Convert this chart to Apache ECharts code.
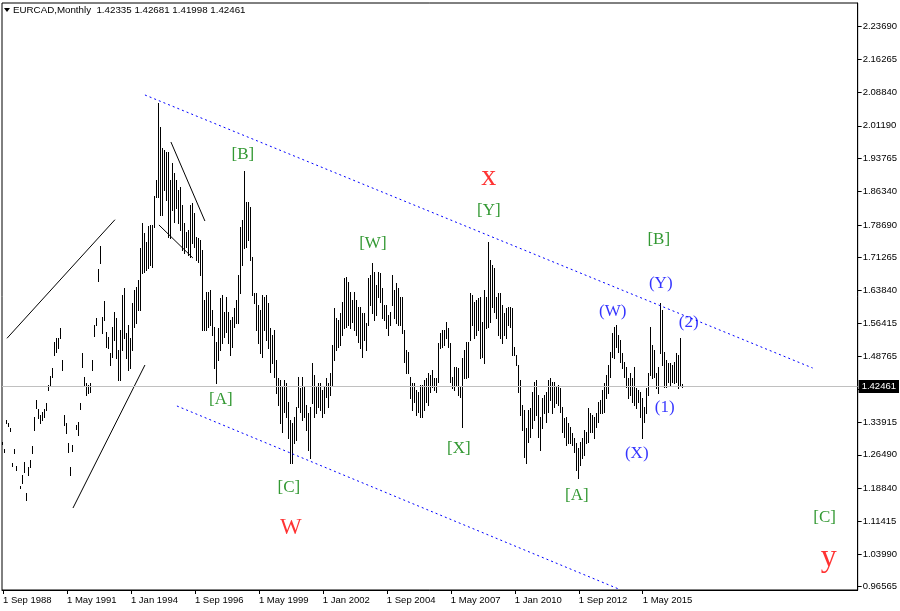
<!DOCTYPE html>
<html>
<head>
<meta charset="utf-8">
<script src="https://cdn.jsdelivr.net/npm/echarts@6.0.0/dist/echarts.min.js"></script>
<style>
html,body{margin:0;padding:0;background:#fff;}
#chart{width:900px;height:611px;}
</style>
</head>
<body>
<div id="chart"></div>
<script>
// ---- header / meta ----
const symbolName = 'EURCAD,Monthly';
const lastBarOHLC = [1.42335, 1.42681, 1.41998, 1.42461];

// ---- time axis: monthly categories from Sep 1988 ----
const startYear = 1988;
const startMonth = 8; // Sep (0-based)
const totalMonths = 428;
const monthNames = ['Jan','Feb','Mar','Apr','May','Jun','Jul','Aug','Sep','Oct','Nov','Dec'];
const labelEvery = 32;

// ---- price axis tick labels ----
const priceTicks = [0.96565, 1.03990, 1.11415, 1.18840, 1.26490, 1.33915, 1.41340, 1.48765, 1.56415,
  1.63840, 1.71265, 1.78690, 1.86340, 1.93765, 2.01190, 2.08840, 2.16265, 2.23690];
const priceMin = 0.9581;
const priceMax = 2.2906;

// ---- monthly bar highs (from Sep 1988) ----
const highs = [
 1.294,1.278,1.344,1.337,1.326,1.246,1.278,1.240,null,1.194,
 1.219,1.249,1.178,1.237,1.253,1.285,1.351,1.389,1.369,1.355,
 1.362,1.369,1.383,1.423,1.444,1.462,1.521,1.530,1.530,1.553,
 1.480,1.355,1.337,1.292,1.237,1.287,null,1.333,1.340,1.383,
 1.496,1.442,1.428,1.423,1.428,1.480,1.560,1.576,1.687,1.739,
 1.578,1.614,1.544,1.532,1.496,1.555,1.589,1.576,1.503,1.548,
 1.628,1.644,1.541,1.560,1.530,1.610,1.639,1.646,1.662,1.734,
 1.791,1.769,1.748,1.784,1.787,1.787,1.853,1.889,2.064,2.009,
 1.961,1.957,1.952,1.952,1.889,1.927,1.905,1.889,1.866,1.873,
 1.832,1.791,1.771,1.775,1.832,1.837,1.814,1.759,1.757,1.753,
 1.730,1.616,1.635,1.635,1.639,1.594,1.555,1.521,1.553,1.621,
 1.628,1.589,1.623,1.589,1.571,1.578,1.598,1.616,1.673,1.782,
 1.798,1.909,1.839,1.839,1.828,1.714,1.632,1.632,1.605,1.594,
 1.628,1.623,1.628,1.610,1.553,1.537,1.548,1.480,1.439,1.435,
 1.419,1.435,1.428,1.385,1.344,1.337,1.351,1.374,1.442,1.417,
 1.442,1.419,1.378,1.360,1.374,1.473,1.446,1.419,1.428,1.428,
 1.412,1.419,1.439,1.428,1.451,1.514,1.598,1.576,1.571,1.587,
 1.612,1.666,1.669,1.657,1.635,1.616,1.635,1.616,1.601,1.601,
 1.587,1.587,1.564,1.666,1.673,1.700,1.680,1.651,1.680,1.678,
 1.644,1.605,1.605,1.582,1.589,1.673,1.639,1.655,1.644,1.623,
 1.623,1.548,1.503,1.498,1.442,1.428,1.428,1.412,1.408,1.423,
 1.423,1.435,1.439,1.451,1.446,1.458,1.439,1.439,1.519,1.541,
 1.548,1.548,1.567,1.553,1.519,1.442,1.464,1.464,1.462,1.419,
 1.485,1.503,1.521,1.521,1.632,1.628,1.612,1.616,1.621,1.623,
 1.567,1.639,1.623,1.748,1.707,1.696,1.689,1.623,1.632,1.632,
 1.605,1.587,1.598,1.601,1.601,1.598,1.510,1.492,1.469,1.435,
 1.378,1.367,1.326,1.367,1.371,1.408,1.430,1.435,1.401,1.351,
 1.394,1.401,1.408,1.435,1.439,1.430,1.430,1.419,1.423,1.417,
 1.374,1.349,1.351,1.337,1.328,1.315,1.303,1.292,1.281,1.294,
 1.303,1.321,1.317,1.371,1.360,1.355,1.351,1.360,1.385,1.389,
 1.412,1.428,1.446,1.469,1.498,1.541,1.555,1.560,1.537,1.526,
 1.496,1.476,1.464,1.439,1.451,1.439,1.464,1.417,1.412,1.408,
 1.394,1.374,1.417,1.451,1.555,1.514,1.503,1.451,1.464,1.610,
 1.594,1.498,1.480,1.473,1.473,1.469,1.476,1.496,1.492,1.530,
 1.42681
];

// ---- monthly bar lows (from Sep 1988) ----
const lows = [
 1.290,1.271,1.337,1.330,1.319,1.240,1.269,1.231,null,1.190,
 1.201,1.226,1.162,1.219,1.237,1.269,1.321,1.371,1.349,1.337,
 1.344,1.351,1.367,1.412,1.423,1.442,1.492,1.498,1.507,1.530,
 1.458,1.333,1.315,1.271,1.219,1.274,null,1.324,1.310,1.369,
 1.464,1.423,1.401,1.405,1.407,1.458,1.535,1.560,1.660,1.700,
 1.541,1.571,1.510,1.507,1.469,1.487,1.526,1.485,1.435,1.435,
 1.503,1.530,1.485,1.458,1.462,1.503,1.555,1.564,1.594,1.594,
 1.678,1.680,1.685,1.689,1.696,1.691,1.782,1.850,1.850,1.809,
 1.809,1.866,1.843,1.759,1.757,1.821,1.794,1.825,1.791,1.775,
 1.730,1.723,1.737,1.719,1.714,1.746,1.737,1.707,1.703,1.673,
 1.548,1.548,1.548,1.555,1.560,1.537,1.462,1.428,1.480,1.503,
 1.519,1.532,1.544,1.519,1.492,1.510,1.555,1.564,1.564,1.632,
 1.696,1.734,1.737,1.753,1.707,1.628,1.610,1.548,1.519,1.496,
 1.487,1.548,1.526,1.507,1.453,1.473,1.442,1.405,1.378,1.337,
 1.317,1.362,1.351,1.303,1.246,1.246,1.292,1.299,1.374,1.362,
 1.344,1.351,1.321,1.276,1.258,1.383,1.351,1.360,1.374,1.367,
 1.351,1.360,1.396,1.374,1.401,1.423,1.480,1.503,1.510,1.514,
 1.537,1.553,1.555,1.560,1.553,1.567,1.548,1.537,1.521,1.507,
 1.487,1.526,1.503,1.560,1.605,1.587,1.571,1.582,1.623,1.612,
 1.576,1.571,1.553,1.537,1.560,1.605,1.576,1.564,1.560,1.560,
 1.541,1.476,1.451,1.451,1.394,1.367,1.385,1.355,1.362,1.351,
 1.351,1.367,1.385,1.378,1.408,1.419,1.412,1.408,1.430,1.507,
 1.510,1.514,1.530,1.510,1.430,1.417,1.412,1.423,1.401,1.396,
 1.328,1.439,1.439,1.442,1.526,1.560,1.530,1.537,1.548,1.485,
 1.487,1.473,1.553,1.555,1.567,1.601,1.589,1.576,1.537,1.530,
 1.519,1.537,1.530,1.560,1.555,1.492,1.492,1.469,1.408,1.355,
 1.321,1.260,1.246,1.294,1.305,1.326,1.344,1.355,1.305,1.276,
 1.326,1.360,1.340,1.362,1.389,1.360,1.374,1.383,1.378,1.362,
 1.317,1.305,1.287,1.292,1.292,1.287,1.271,1.231,1.212,1.242,
 1.258,1.265,1.292,1.294,1.317,1.317,1.303,1.328,1.340,1.360,
 1.360,1.362,1.394,1.405,1.442,1.487,1.485,1.510,1.498,1.476,
 1.462,1.442,1.419,1.394,1.401,1.385,1.378,1.371,1.385,1.351,
 1.303,1.340,1.360,1.401,1.446,1.439,1.442,1.417,1.405,1.496,
 1.469,1.419,1.419,1.430,1.423,1.430,1.428,1.430,1.417,1.423,
 1.41998
];

// ---- hand-drawn lines: [monthIndex, price] endpoints ----
const channelUpper = [[71, 2.0818], [405, 1.4620]];
const channelLower = [[87, 1.3758], [308, 0.9603]];
const trendA = [[1.5, 1.5295], [56, 1.7987]];
const trendB = [[34.5, 1.1442], [71, 1.4688]];
const trendC = [[84, 1.9751], [100.5, 1.7957]];
const trendD = [[77.5, 1.7867], [94.5, 1.7117]];

// ---- wave labels ----
const waveTexts = ['[B]','[A]','[C]','W','[W]','[X]','[Y]','x','[A]','(W)','(X)','(Y)','[B]','(1)','(2)','[C]','y'];
const waveIdx   = [120,108.5,143.25,144,184.5,228,243,242.5,286.5,304.5,317,328.5,328,331,342.5,410.5,412.5];
const wavePrice = [1.9456,1.3906,1.1908,1.1000,1.7447,1.2793,1.8196,1.8947,1.1727,1.5903,1.2680,1.6539,1.7538,1.3724,1.5654,1.1227,1.0320];
const waveKind  = ['g','g','g','r','g','g','g','r','g','b','b','b','g','b','b','g','r'];
const waveSizes = [17,17,17,23,17,17,17,30,17,17,17,17,17,17,17,17,32];
const kindColors = {g:'#008000', b:'#0000ff', r:'#ff0000'};

// ---- build ----
const categories = [];
for (let i = 0; i < totalMonths; i++) {
  const m = (startMonth + i) % 12;
  const y = startYear + Math.floor((startMonth + i) / 12);
  categories.push('1 ' + monthNames[m] + ' ' + y);
}
const barCount = highs.length;
const barData = [];
for (let i = 0; i < barCount; i++) {
  if (highs[i] != null && lows[i] != null) barData.push([i, highs[i], lows[i]]);
}
const showTick = function (index) { return index % labelEvery === 0 && index < barCount; };

const sansFont = 'Liberation Sans, Arial, sans-serif';
const serifFont = 'Liberation Serif, Times New Roman, serif';

function lineSeries(data, color, type) {
  return {
    type: 'line', data: data, showSymbol: false, symbol: 'none', silent: true,
    lineStyle: {color: color, width: 1, type: type}, z: 3, clip: true, animation: false
  };
}

const chart = echarts.init(document.getElementById('chart'), null, {renderer: 'canvas'});
chart.setOption({
  animation: false,
  backgroundColor: '#ffffff',
  grid: {left: 2, right: 42, top: 3, bottom: 21, show: true, borderColor: '#000', borderWidth: 1},
  xAxis: {
    type: 'category', data: categories, boundaryGap: true,
    axisLine: {show: true, lineStyle: {color: '#000', width: 1}},
    axisTick: {show: true, alignWithLabel: true, interval: showTick, length: 4, lineStyle: {color: '#000'}},
    axisLabel: {interval: showTick, align: 'left', margin: 5, fontSize: 9.5, fontFamily: sansFont, color: '#000'},
    splitLine: {show: false}
  },
  yAxis: {
    type: 'value', position: 'right', min: priceMin, max: priceMax,
    axisLine: {show: true, lineStyle: {color: '#000', width: 1}},
    axisTick: {show: true, length: 4, customValues: priceTicks, lineStyle: {color: '#000'}},
    axisLabel: {customValues: priceTicks, formatter: function (v) { return v.toFixed(5); },
      margin: 5, fontSize: 9.5, fontFamily: sansFont, color: '#000', padding: [4, 0, 0, 0]},
    splitLine: {show: false}
  },
  graphic: [
    {type: 'polygon', shape: {points: [[4, 8], [10, 8], [7, 12]]}, style: {fill: '#000'}, z: 10},
    {type: 'text', left: 13, top: 5, z: 10,
      style: {text: symbolName + '  ' + lastBarOHLC.map(function (v) { return v.toFixed(5); }).join(' '),
        font: '9.75px ' + sansFont, fill: '#000'}}
  ],
  series: [
    {
      type: 'custom', data: barData, encode: {x: 0, y: [1, 2]}, z: 2, silent: true, clip: true,
      renderItem: function (params, api) {
        const idx = api.value(0);
        const p1 = api.coord([idx, api.value(1)]);
        const p2 = api.coord([idx, api.value(2)]);
        const px = Math.round(p1[0] - 0.5) + 0.5;
        let y1 = Math.round(p1[1]);
        let y2 = Math.round(p2[1]) + 1;
        return {type: 'line', shape: {x1: px, y1: y1, x2: px, y2: y2},
          style: {stroke: '#000', lineWidth: 1}};
      },
      markLine: {
        silent: true, symbol: ['none', 'none'], animation: false,
        lineStyle: {color: '#c0c0c0', type: 'solid', width: 1},
        label: {show: true, position: 'end', formatter: lastBarOHLC[3].toFixed(5), color: '#fff',
          backgroundColor: '#000', padding: [2, 3, 1, 3], fontSize: 9.5, fontFamily: sansFont, distance: 1},
        data: [{yAxis: lastBarOHLC[3]}]
      }
    },
    lineSeries(channelUpper, '#0000ff', [2, 3]),
    lineSeries(channelLower, '#0000ff', [2, 3]),
    lineSeries(trendA, '#000', 'solid'),
    lineSeries(trendB, '#000', 'solid'),
    lineSeries(trendC, '#000', 'solid'),
    lineSeries(trendD, '#000', 'solid'),
    {
      type: 'scatter', symbolSize: 0, silent: true, clip: false, z: 5,
      data: waveTexts.map(function (t, i) {
        return {
          value: [waveIdx[i], wavePrice[i]],
          label: {show: true, position: 'inside', formatter: t, color: kindColors[waveKind[i]],
            fontSize: waveSizes[i], fontFamily: serifFont}
        };
      })
    }
  ]
});
</script>
</body>
</html>
